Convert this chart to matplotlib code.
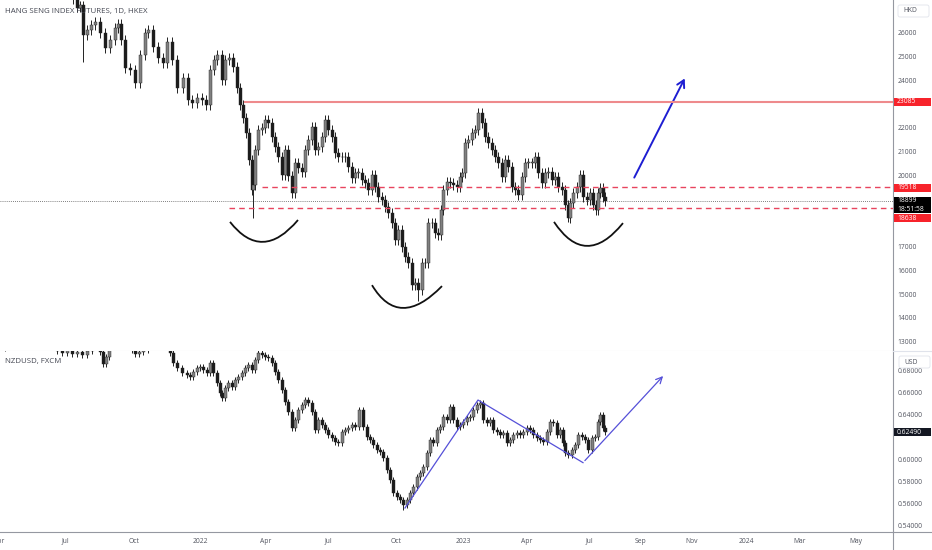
import matplotlib
matplotlib.use("Agg")
import matplotlib.pyplot as plt
from matplotlib.patches import Rectangle, FancyBboxPatch, PathPatch
from matplotlib.path import Path
from matplotlib.lines import Line2D
from matplotlib.transforms import IdentityTransform

plt.rcParams['font.family'] = ['Open Sans', 'DejaVu Sans']

# bar index (~1 per trading day) and closes
hsi_bar = [70, 73, 77, 80, 83, 87, 91, 95, 100, 105,
           110, 115, 118, 121, 125, 130, 135, 140, 145, 148,
           153, 158, 163, 167, 172, 177, 183, 188, 192, 197,
           202, 206, 210, 214, 217, 222, 225, 229, 233, 237,
           240, 243, 246, 249, 252, 253, 255, 258, 262, 265,
           268, 272, 275, 278, 282, 285, 288, 292, 295, 298,
           302, 305, 308, 312, 315, 318, 322, 325, 328, 332,
           335, 338, 342, 345, 348, 352, 355, 358, 362, 365,
           368, 372, 375, 378, 382, 385, 388, 392, 395, 398,
           402, 405, 408, 412, 415, 418, 422, 425, 428, 432,
           435, 438, 441, 443, 447, 450, 453, 457, 460, 462,
           465, 468, 472, 475, 478, 482, 485, 488, 492, 495,
           498, 502, 505, 508, 512, 515, 518, 522, 525, 528,
           532, 535, 538, 542, 545, 548, 552, 555, 558, 562,
           565, 568, 570, 573, 577, 580, 583, 587, 590, 593,
           596, 598, 600, 603, 605]
hsi_close = [27800, 27400, 27050, 27150, 25900, 26110, 26320, 26450, 25990, 25360,
             25690, 26200, 26370, 25690, 24520, 24430, 23880, 25060, 25990, 26110,
             25400, 24940, 24730, 25610, 24850, 23670, 24090, 23170, 23040, 23250,
             23170, 22960, 24430, 24850, 25060, 24010, 24850, 24940, 24560, 23670,
             22960, 22410, 21780, 20640, 19380, 19590, 21070, 21910, 21990, 22330,
             22200, 21610, 21190, 20770, 20010, 21070, 19970, 19260, 20520, 20310,
             20140, 21070, 21490, 22030, 21070, 21190, 21610, 22330, 21910, 21610,
             20940, 20770, 20770, 20770, 20350, 19890, 20100, 20100, 19800, 19680,
             19380, 20010, 19510, 19090, 18960, 18670, 18420, 17990, 17280, 17700,
             16980, 16560, 16310, 15390, 15470, 15180, 16310, 16310, 17990, 17990,
             17570, 17490, 18540, 19380, 19720, 19680, 19590, 19510, 19930, 20100,
             21360, 21490, 21780, 21910, 22620, 22200, 21610, 21360, 21070, 20770,
             20520, 19930, 20640, 20350, 19510, 19380, 19170, 19930, 20520, 20520,
             20520, 20770, 20100, 19680, 20100, 20140, 19800, 19930, 19510, 19380,
             18750, 18210, 18840, 19260, 19510, 20010, 19090, 18960, 19260, 18750,
             18540, 19260, 19470, 19090, 18899]
hsi_spike_low = {83: 24770, 253: 18210, 418: 14700, 568: 18050}

nzd_bar = [0, 5, 10, 15, 20, 25, 30, 35, 40, 45,
           50, 55, 57, 62, 67, 72, 77, 82, 87, 92,
           97, 100, 103, 106, 109, 115, 120, 126, 132, 135,
           139, 143, 148, 155, 160, 165, 170, 173, 177, 182,
           187, 190, 193, 197, 200, 203, 207, 210, 213, 217,
           220, 222, 225, 228, 232, 235, 238, 242, 245, 248,
           252, 255, 258, 262, 265, 268, 272, 275, 278, 282,
           285, 288, 292, 295, 298, 302, 305, 308, 312, 315,
           318, 322, 325, 328, 332, 335, 338, 342, 345, 348,
           352, 355, 359, 363, 367, 370, 373, 377, 380, 383,
           387, 390, 393, 397, 400, 403, 407, 410, 413, 417,
           420, 423, 427, 430, 433, 437, 440, 443, 447, 450,
           453, 457, 460, 463, 467, 470, 473, 477, 480, 483,
           487, 490, 493, 497, 500, 503, 507, 510, 513, 517,
           520, 523, 527, 530, 533, 537, 540, 543, 547, 550,
           553, 557, 560, 563, 565, 568, 572, 575, 578, 582,
           585, 588, 592, 595, 598, 600, 603, 605]
nzd_close = [0.7000, 0.7050, 0.7100, 0.7140, 0.7160, 0.7130, 0.7160, 0.7180, 0.7140, 0.7100,
             0.7080, 0.7030, 0.6980, 0.6960, 0.6990, 0.6950, 0.6970, 0.6940, 0.6980, 0.7030,
             0.7060, 0.6970, 0.6860, 0.6920, 0.7010, 0.7070, 0.7100, 0.7070, 0.6990, 0.6950,
             0.6970, 0.6990, 0.7050, 0.7080, 0.7070, 0.7030, 0.6958, 0.6868, 0.6823, 0.6778,
             0.6760, 0.6742, 0.6787, 0.6823, 0.6832, 0.6805, 0.6778, 0.6868, 0.6778, 0.6688,
             0.6597, 0.6552, 0.6643, 0.6688, 0.6652, 0.6715, 0.6742, 0.6778, 0.6823, 0.6850,
             0.6805, 0.6895, 0.6958, 0.6940, 0.6922, 0.6913, 0.6868, 0.6787, 0.6715, 0.6624,
             0.6516, 0.6426, 0.6282, 0.6354, 0.6444, 0.6489, 0.6534, 0.6507, 0.6426, 0.6264,
             0.6354, 0.6309, 0.6264, 0.6218, 0.6191, 0.6155, 0.6146, 0.6246, 0.6264, 0.6282,
             0.6309, 0.6291, 0.6444, 0.6291, 0.6200, 0.6173, 0.6128, 0.6083, 0.6065, 0.6011,
             0.5903, 0.5813, 0.5695, 0.5659, 0.5632, 0.5590, 0.5632, 0.5695, 0.5749, 0.5840,
             0.5876, 0.5930, 0.6056, 0.6173, 0.6146, 0.6264, 0.6291, 0.6381, 0.6354, 0.6471,
             0.6354, 0.6291, 0.6309, 0.6336, 0.6372, 0.6381, 0.6444, 0.6489, 0.6507, 0.6354,
             0.6327, 0.6354, 0.6264, 0.6246, 0.6218, 0.6236, 0.6146, 0.6173, 0.6218, 0.6236,
             0.6218, 0.6246, 0.6282, 0.6264, 0.6218, 0.6191, 0.6173, 0.6155, 0.6246, 0.6336,
             0.6327, 0.6218, 0.6264, 0.6146, 0.6056, 0.6038, 0.6083, 0.6128, 0.6218, 0.6200,
             0.6173, 0.6083, 0.6191, 0.6200, 0.6336, 0.6399, 0.6282, 0.6249]
nzd_spike_low = {403: 0.5542}

# x axis
tick_pos = [-1, 65, 134, 200, 266, 328, 396, 463, 527, 589, 641, 692, 746, 800, 856]
tick_txt = ['Apr', 'Jul', 'Oct', '2022', 'Apr', 'Jul', 'Oct', '2023', 'Apr', 'Jul',
            'Sep', 'Nov', '2024', 'Mar', 'May']

# price scale labels that are not covered by the price tags
hsi_ticks = [13000, 14000, 15000, 16000, 17000, 20000, 21000, 22000, 24000, 25000, 26000]
nzd_ticks = [0.54, 0.56, 0.58, 0.60, 0.64, 0.66, 0.68]

# drawings on the chart
resist = 23085
neck_hi = 19518
neck_lo = 18638
arc_left = [(230, 18040), (263, 17200), (298, 18120)]
arc_mid = [(372, 15380), (403, 14420), (442, 15340)]
arc_right = [(554, 18040), (587, 17030), (623, 17990)]
hsi_arrow = [(633, 19800), (686, 24180)]
nzd_path = [(405, 0.5560), (478, 0.6534), (583, 0.5969), (665, 0.6769)]

W, H = 932, 550
AX_R = 893
fig = plt.figure(figsize=(W / 100, H / 100), dpi=100)
ax1 = fig.add_axes([0, 1 - 350.7 / H, AX_R / W, 350.7 / H])
ax2 = fig.add_axes([0, 1 - 531.7 / H, AX_R / W, (531.7 - 350.7) / H])
px = IdentityTransform()


def candles(ax, bars, closes, wick, spikes):
    for i in range(1, len(bars)):
        o, c = closes[i - 1], closes[i]
        lo = spikes.get(bars[i], min(o, c) - wick)
        hi = max(o, c) + wick
        col = '#808080' if c >= o else '#1c1c1c'
        ax.vlines(bars[i], lo, hi, color='#222222', lw=0.7, zorder=2)
        ax.bar(bars[i], abs(c - o) if c != o else wick * 0.1, bottom=min(o, c),
               width=3.0, color=col, edgecolor='#222222', lw=0.3, zorder=3)


candles(ax1, hsi_bar, hsi_close, 200, hsi_spike_low)
candles(ax2, nzd_bar, nzd_close, 0.0028, nzd_spike_low)

for ax in (ax1, ax2):
    ax.set_xlim(0, AX_R)
    ax.set_xticks([])
    for s in ('top', 'left'):
        ax.spines[s].set_visible(False)
    ax.spines['right'].set_color('#9598a1')
    ax.spines['right'].set_linewidth(0.8)
    ax.yaxis.tick_right()
    ax.tick_params(axis='y', length=0, pad=3.2, labelsize=4.9, labelcolor='#50535e')

ax1.set_ylim(12622, 27375)
ax2.set_ylim(0.5346, 0.6979)
ax1.spines['bottom'].set_color('#e0e3eb')
ax2.spines['bottom'].set_color('#9598a1')
ax2.spines['bottom'].set_linewidth(0.8)
ax1.set_yticks(hsi_ticks)
ax1.set_yticklabels([str(t) for t in hsi_ticks])
ax2.set_yticks(nzd_ticks)
ax2.set_yticklabels(['%.5f' % t for t in nzd_ticks])

# horizontal levels
ax1.plot([245, AX_R], [resist, resist], color='#ee8a8c', lw=1.5, zorder=4)
ax1.plot([262, AX_R], [neck_hi, neck_hi], color='#e8445e', lw=1.0, ls=(0, (4, 3)), zorder=4)
ax1.plot([229, AX_R], [neck_lo, neck_lo], color='#e8445e', lw=1.0, ls=(0, (4, 3)), zorder=4)
ax1.plot([0, AX_R], [hsi_close[-1], hsi_close[-1]], color='#555555', lw=0.6, ls=(0, (1, 1.5)), zorder=1)


def arc(ax, pts):
    (x0, y0), (xm, ym), (x1, y1) = pts
    cx, cy = 2 * xm - (x0 + x1) / 2, 2 * ym - (y0 + y1) / 2
    path = Path([(x0, y0), (cx, cy), (x1, y1)], [Path.MOVETO, Path.CURVE3, Path.CURVE3])
    ax.add_patch(PathPatch(path, fill=False, edgecolor='#111111', lw=1.3, zorder=5))


for a in (arc_left, arc_mid, arc_right):
    arc(ax1, a)

ax1.annotate('', xy=hsi_arrow[1], xytext=hsi_arrow[0],
             arrowprops=dict(arrowstyle='->,head_length=0.5,head_width=0.28', color='#1e1ed2', lw=1.4))

ax2.plot([p[0] for p in nzd_path[:-1]], [p[1] for p in nzd_path[:-1]], color='#5550d8', lw=0.9, zorder=5)
ax2.annotate('', xy=nzd_path[-1], xytext=nzd_path[-2],
             arrowprops=dict(arrowstyle='->,head_length=0.45,head_width=0.22', color='#5550d8', lw=0.9))

# x labels
for p, t in zip(tick_pos, tick_txt):
    ax2.text(p, -0.052, t, transform=ax2.get_xaxis_transform(), ha='center', va='center',
             fontsize=4.9, color='#50535e', clip_on=False)

# frame lines outside the panes
fig.add_artist(Line2D([AX_R, AX_R], [0, H - 531.7], transform=px, color='#9598a1', lw=0.8))
fig.add_artist(Line2D([AX_R, W], [H - 531.7, H - 531.7], transform=px, color='#9598a1', lw=0.8))
fig.add_artist(Line2D([AX_R, W], [H - 350.7, H - 350.7], transform=px, color='#e0e3eb', lw=0.8))


def tag(ax, value, label, bg, dy=0, h=8, lines=1):
    fig.canvas.draw()
    y = ax.transData.transform((0, value))[1] + dy
    hh = h * lines
    fig.add_artist(Rectangle((AX_R + 0.5, y - hh / 2), W - AX_R - 1.5, hh, transform=px,
                             facecolor=bg, edgecolor='none', zorder=10))
    fig.text(AX_R + 4, y, label, transform=px, ha='left', va='center', fontsize=4.9,
             color='white', zorder=11, linespacing=1.25)


tag(ax1, resist, str(resist), '#f7232b')
tag(ax1, neck_hi, str(neck_hi), '#f7232b', dy=-1)
tag(ax1, hsi_close[-1], '%d\n18:51:58' % hsi_close[-1], '#000000', dy=-3.5, lines=2)
tag(ax1, neck_lo, str(neck_lo), '#f7232b', dy=-10.5)
tag(ax2, nzd_close[-1], '%.5f' % nzd_close[-1], '#131722', dy=-0.5)


def unit_box(x, y, text):
    fig.add_artist(FancyBboxPatch((x, y), 31, 12, boxstyle='round,pad=0,rounding_size=2',
                                  transform=px, facecolor='white', edgecolor='#e0e3eb', lw=0.6, zorder=10))
    fig.text(x + 5, y + 6, text, transform=px, ha='left', va='center', fontsize=4.9,
             color='#50535e', zorder=11)


unit_box(898, H - 17, 'HKD')
unit_box(899, H - 368, 'USD')

fig.text(5, H - 11, 'HANG SENG INDEX FUTURES, 1D, HKEX', transform=px, fontsize=5.7,
         color='#434651', va='center')
fig.text(5, H - 362, 'NZDUSD, FXCM', transform=px, fontsize=5.7, color='#434651', va='center')

fig.savefig('out.png', dpi=100)
